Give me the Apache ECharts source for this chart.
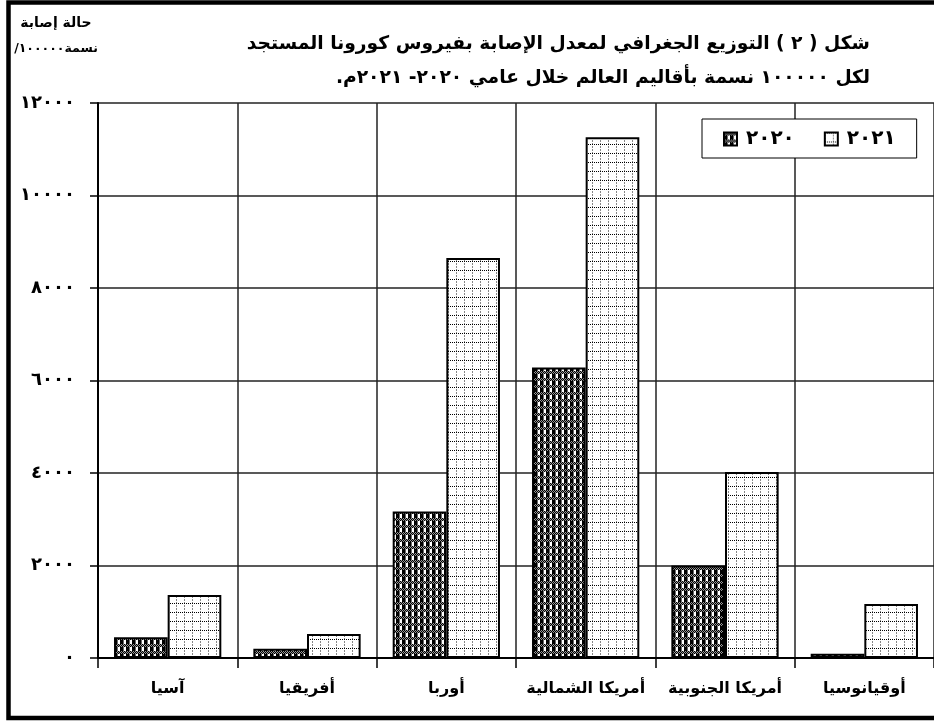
<!DOCTYPE html>
<html>
<head>
<meta charset="utf-8">
<script src="https://cdn.jsdelivr.net/npm/echarts@6/dist/echarts.min.js"></script>
<style>
html, body { margin: 0; padding: 0; background: #fff; }
#chart { width: 934px; height: 721px; }
</style>
</head>
<body>
<div id="chart" dir="rtl"></div>
<script>
// Regions and infection rates (cases per 100,000 people)
const regions = ['آسيا', 'أفريقيا', 'أوربا', 'أمريكا الشمالية', 'أمريكا الجنوبية', 'أوقيانوسيا'];
const values2020 = [450, 200, 3170, 6280, 2000, 90];
const values2021 = [1360, 520, 8650, 11260, 4020, 1170];
const seriesNames = ['٢٠٢٠', '٢٠٢١'];
const yTickLabels = ['٠', '٢٠٠٠', '٤٠٠٠', '٦٠٠٠', '٨٠٠٠', '١٠٠٠٠', '١٢٠٠٠'];
const titleLines = [
  'شكل ( ٢ ) التوزيع الجغرافي لمعدل الإصابة بفيروس كورونا المستجد',
  'لكل ١٠٠٠٠٠ نسمة بأقاليم العالم خلال عامي ٢٠٢٠- ٢٠٢١م.'
];
const yNameLines = ['حالة إصابة', 'نسمة١٠٠٠٠٠/'];

const FONT = '"DejaVu Sans", sans-serif';

// Hatch tiles used as bar fills
function makeTile(w, h, draw) {
  const c = document.createElement('canvas');
  c.width = w; c.height = h;
  const ctx = c.getContext('2d');
  ctx.fillStyle = '#fff';
  ctx.fillRect(0, 0, w, h);
  draw(ctx);
  return c;
}
const darkTile = makeTile(6, 7, ctx => {
  for (let y = 0; y < 3; y++)
    for (let x = 0; x < 6; x++) {
      ctx.fillStyle = (x + y) % 2 === 0 ? '#000' : '#999';
      ctx.fillRect(x, y, 1, 1);
    }
  ctx.fillStyle = '#000';
  ctx.fillRect(0, 3, 3, 4);
  ctx.fillStyle = '#666';
  ctx.fillRect(3, 3, 1, 4);
});
const lightTile = makeTile(8, 9, ctx => {
  ctx.fillStyle = '#000';
  for (let x = 0; x < 8; x += 2) ctx.fillRect(x, 0, 1, 1);
  ctx.fillStyle = '#888';
  for (let y = 2; y < 9; y += 3) ctx.fillRect(0, y, 1, 2);
});

const chart = echarts.init(document.getElementById('chart'));
chart.setOption({
  backgroundColor: '#fff',
  animation: false,
  textStyle: { fontFamily: FONT },
  title: [
    {
      text: titleLines.join('\n'),
      left: 870,
      top: 27,
      textAlign: 'right',
      padding: 0,
      textStyle: { fontFamily: FONT, fontSize: 18.7, fontWeight: 'bold', color: '#000', lineHeight: 34 }
    },
    {
      text: '{a|' + yNameLines[0] + '}\n{b|' + yNameLines[1] + '}',
      left: 56,
      top: 10,
      textAlign: 'center',
      padding: 0,
      textStyle: {
        fontFamily: FONT, fontWeight: 'bold', color: '#000',
        rich: {
          a: { fontFamily: FONT, fontSize: 14, fontWeight: 'bold', color: '#000', lineHeight: 26 },
          b: { fontFamily: FONT, fontSize: 12.5, fontWeight: 'bold', color: '#000', lineHeight: 26 }
        }
      }
    }
  ],
  legend: {
    data: seriesNames,
    left: 702,
    top: 119,
    itemWidth: 13,
    itemHeight: 13,
    itemGap: 29,
    padding: [10, 21, 9, 21],
    borderColor: '#000',
    borderWidth: 1,
    backgroundColor: '#fff',
    icon: 'rect',
    textStyle: { fontFamily: FONT, fontSize: 20, fontWeight: 'bold', color: '#000', padding: [0, 0, 0, 4] }
  },
  grid: { left: 98, top: 103, right: -4, bottom: 63 },
  xAxis: {
    type: 'category',
    data: regions,
    axisLine: { lineStyle: { color: '#000', width: 2 } },
    axisTick: { show: true, interval: 0, length: 10, lineStyle: { color: '#000', width: 1.5 } },
    splitLine: { show: true, interval: 0, lineStyle: { color: '#222', width: 1.5 } },
    axisLabel: { interval: 0, fontFamily: FONT, fontSize: 16, fontWeight: 'bold', color: '#000', margin: 23 }
  },
  yAxis: {
    type: 'value',
    min: 0,
    max: 12000,
    interval: 2000,
    axisLine: { show: true, lineStyle: { color: '#000', width: 2 } },
    axisTick: { show: true, length: 8, lineStyle: { color: '#000', width: 1.5 } },
    splitLine: { show: true, lineStyle: { color: '#222', width: 1.5 } },
    axisLabel: {
      fontFamily: FONT, fontSize: 18, fontWeight: 'bold', color: '#000', margin: 23,
      formatter: v => yTickLabels[Math.round(v / 2000)]
    }
  },
  series: [
    {
      name: seriesNames[0],
      type: 'bar',
      data: values2020,
      barGap: '0%',
      barCategoryGap: '23%',
      itemStyle: { color: { image: darkTile, repeat: 'repeat' }, borderColor: '#000', borderWidth: 2 }
    },
    {
      name: seriesNames[1],
      type: 'bar',
      data: values2021,
      barGap: '0%',
      barCategoryGap: '23%',
      itemStyle: { color: { image: lightTile, repeat: 'repeat' }, borderColor: '#000', borderWidth: 2 }
    }
  ],
  graphic: [
    {
      type: 'rect',
      silent: true,
      z: 100,
      shape: { x: 8.5, y: 2.5, width: 1000, height: 715.5 },
      style: { fill: 'none', stroke: '#000', lineWidth: 4.5 }
    }
  ]
});
</script>
</body>
</html>
